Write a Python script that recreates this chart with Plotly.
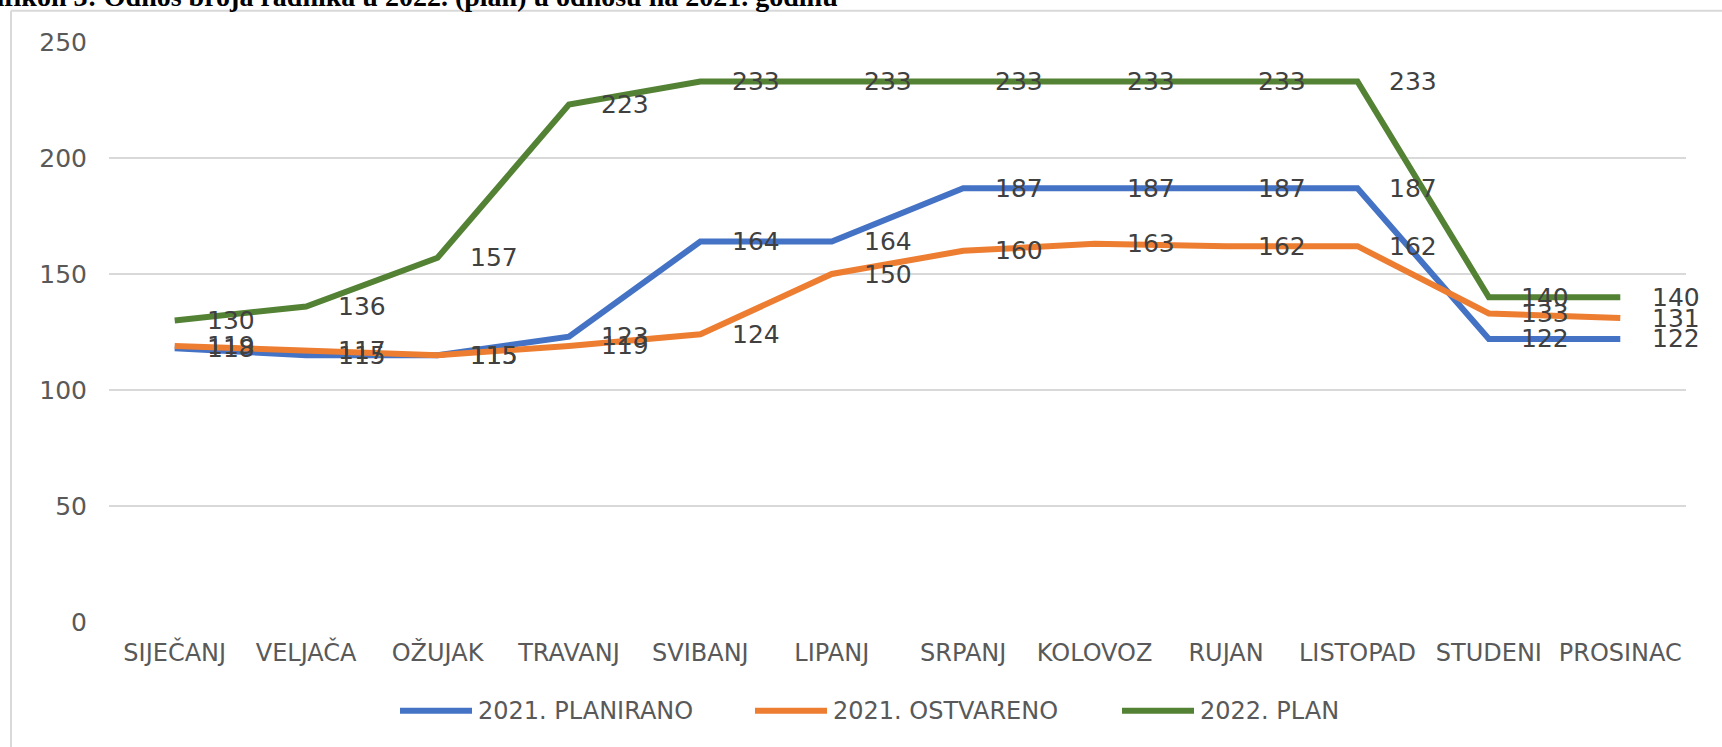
import plotly.graph_objects as go

# ---- data ----
months = ["SIJEČANJ", "VELJAČA", "OŽUJAK", "TRAVANJ", "SVIBANJ", "LIPANJ",
          "SRPANJ", "KOLOVOZ", "RUJAN", "LISTOPAD", "STUDENI", "PROSINAC"]
plan_2021 = [118, 115, 115, 123, 164, 164, 187, 187, 187, 187, 122, 122]
ostvareno_2021 = [119, 117, 115, 119, 124, 150, 160, 163, 162, 162, 133, 131]
plan_2022 = [130, 136, 157, 223, 233, 233, 233, 233, 233, 233, 140, 140]
series_names = ["2021. PLANIRANO", "2021. OSTVARENO", "2022. PLAN"]
y_ticks = [0, 50, 100, 150, 200, 250]
title_text = "Grafikon 3: Odnos broja radnika u 2022. (plan) u odnosu na 2021. godinu"

# ---- styling ----
colors = ["#4472C4", "#ED7D31", "#548235"]
W, H = 1722, 747
L, R, T, B = 109, 1686, 42.3, 622.3
FONT = "DejaVu Sans"


def px(x):
    return (x - L) / (R - L)


def py(y):
    return (B - y) / (B - T)


series = [plan_2021, ostvareno_2021, plan_2022]

fig = go.Figure()
for name, vals, col in zip(series_names, series, colors):
    fig.add_trace(go.Scatter(x=months, y=vals, name=name, mode="lines",
                             line=dict(color=col, width=6),
                             showlegend=False, hoverinfo="x+y+name"))

annotations = []
for vals in series:
    for m, v in zip(months, vals):
        annotations.append(dict(x=m, y=v, xref="x", yref="y", text=str(v),
                                showarrow=False, xanchor="left", yanchor="middle",
                                xshift=30, font=dict(family=FONT, size=25, color="#404040")))

# title (partially cut at top, as in the reference)
annotations.append(dict(x=px(840), y=1, xref="paper", yref="paper", text="<b>" + title_text + "</b>",
                        showarrow=False, xanchor="right", yanchor="bottom", yshift=28,
                        font=dict(family="Liberation Serif", size=28, color="#000000")))

# custom legend
shapes = []
legend_x = [400, 755, 1122]
leg_y = 711
for name, col, x0 in zip(series_names, colors, legend_x):
    shapes.append(dict(type="line", xref="paper", yref="paper",
                       x0=px(x0), x1=px(x0 + 72), y0=py(leg_y), y1=py(leg_y),
                       line=dict(color=col, width=6)))
    annotations.append(dict(x=px(x0 + 76), y=py(leg_y), xref="paper", yref="paper", text=name,
                            showarrow=False, xanchor="left", yanchor="middle",
                            font=dict(family=FONT, size=24, color="#595959")))

# chart area border (top and left visible)
shapes.append(dict(type="line", xref="paper", yref="paper", x0=px(11), x1=px(W + 10),
                   y0=py(11), y1=py(11), line=dict(color="#d9d9d9", width=2)))
shapes.append(dict(type="line", xref="paper", yref="paper", x0=px(11), x1=px(11),
                   y0=py(11), y1=py(H + 10), line=dict(color="#d9d9d9", width=2)))

fig.update_layout(
    width=W, height=H,
    margin=dict(l=L, r=W - R, t=T, b=H - B),
    paper_bgcolor="white", plot_bgcolor="white",
    annotations=annotations, shapes=shapes,
    showlegend=False,
    xaxis=dict(type="category", range=[-0.5, 11.5], showgrid=False, zeroline=False,
               showline=False, ticks="", ticklabelstandoff=14,
               tickfont=dict(family=FONT, size=24, color="#595959")),
    yaxis=dict(range=[0, 250], tickvals=y_ticks, showgrid=True, gridcolor="#d9d9d9",
               gridwidth=2, zeroline=False, showline=False, ticks="", ticklabelstandoff=21,
               tickfont=dict(family=FONT, size=25, color="#595959")),
)

fig.write_html("out.html", config={"displayModeBar": False},
               post_script="document.body.style.margin='0';document.body.style.overflow='hidden';")
